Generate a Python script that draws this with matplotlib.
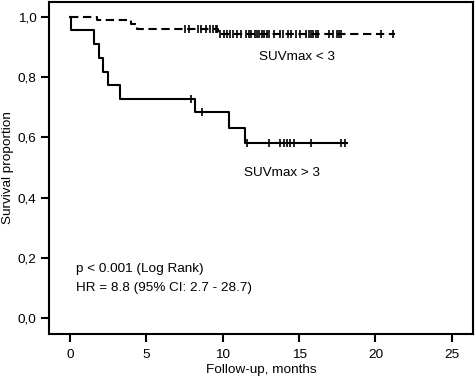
import matplotlib
matplotlib.use("Agg")
import matplotlib.pyplot as plt

plt.rcParams["font.family"] = ["Liberation Sans", "DejaVu Sans"]

# SUVmax > 3 (solid)
high_t = [0, 0.07, 1.59, 1.91, 2.18, 2.46, 3.28, 8.16, 10.44, 11.47, 18.15]
high_s = [1.0, 0.955, 0.909, 0.864, 0.818, 0.773, 0.727, 0.684, 0.632, 0.582, 0.582]
high_cens_t = [7.9, 8.64, 11.57, 13.05, 13.77, 13.99, 14.21, 14.43, 14.64, 15.8, 17.77, 18.0]
high_cens_s = [0.727, 0.684, 0.582, 0.582, 0.582, 0.582, 0.582, 0.582, 0.582, 0.582, 0.582, 0.582]

# SUVmax < 3 (dashed)
low_t = [0, 1.74, 3.96, 4.4, 9.68, 21.3]
low_s = [1.0, 0.99, 0.977, 0.96, 0.943, 0.943]
low_cens_t = [7.5, 7.79, 8.38, 8.6, 8.92, 9.14, 9.35, 9.53, 9.6,
              9.84, 10.05, 10.29, 10.49, 10.7, 10.92, 11.2, 11.49, 11.7, 11.86,
              12.08, 12.23, 12.4, 12.55, 12.73, 12.88, 13.05, 13.38, 13.75, 13.97,
              14.25, 14.47, 14.8, 15.08, 15.45, 15.62, 15.78, 15.93, 16.1, 16.27,
              16.97, 17.19, 17.51, 17.62, 17.73, 20.35, 21.17]
low_cens_s = [0.96] * 9 + [0.943] * 37

fig = plt.figure(figsize=(4.77, 3.77), dpi=100)
ax = fig.add_axes([0.103, 0.114, 0.889, 0.881])

ax.step(high_t, high_s, where="post", color="black", lw=1.5)
ax.plot(high_cens_t, high_cens_s, ls="none", marker="|", ms=6, mew=1.2, color="black")
ax.step(low_t, low_s, where="post", color="black", lw=1.5, dashes=(4, 2.2))
ax.plot(low_cens_t, low_cens_s, ls="none", marker="|", ms=6, mew=1.2, color="black")

fs = 9.7
ax.text(12.35, 0.866, "SUVmax < 3", fontsize=fs, va="center")
ax.text(11.4, 0.483, "SUVmax > 3", fontsize=fs, va="center")
ax.text(0.4, 0.163, "p < 0.001 (Log Rank)", fontsize=fs, va="center")
ax.text(0.4, 0.1, "HR = 8.8 (95% CI: 2.7 - 28.7)", fontsize=fs, va="center")

ax.set_xlim(-1.37, 26.4)
ax.set_ylim(-0.053, 1.05)
ax.set_xticks([0, 5, 10, 15, 20, 25])
ax.set_yticks([0, 0.2, 0.4, 0.6, 0.8, 1.0])
ax.set_yticklabels(["0,0", "0,2", "0,4", "0,6", "0,8", "1,0"])
ax.tick_params(labelsize=fs, length=6, width=1.5, pad=3)
ax.tick_params(axis="x", pad=5)
for s in ax.spines.values():
    s.set_linewidth(1.5)
ax.set_xlabel("Follow-up, months", fontsize=fs, labelpad=2)
ax.set_ylabel("Survival proportion", fontsize=fs)
ax.yaxis.set_label_coords(-0.082, 0.5)

fig.savefig("out.png", dpi=100)
